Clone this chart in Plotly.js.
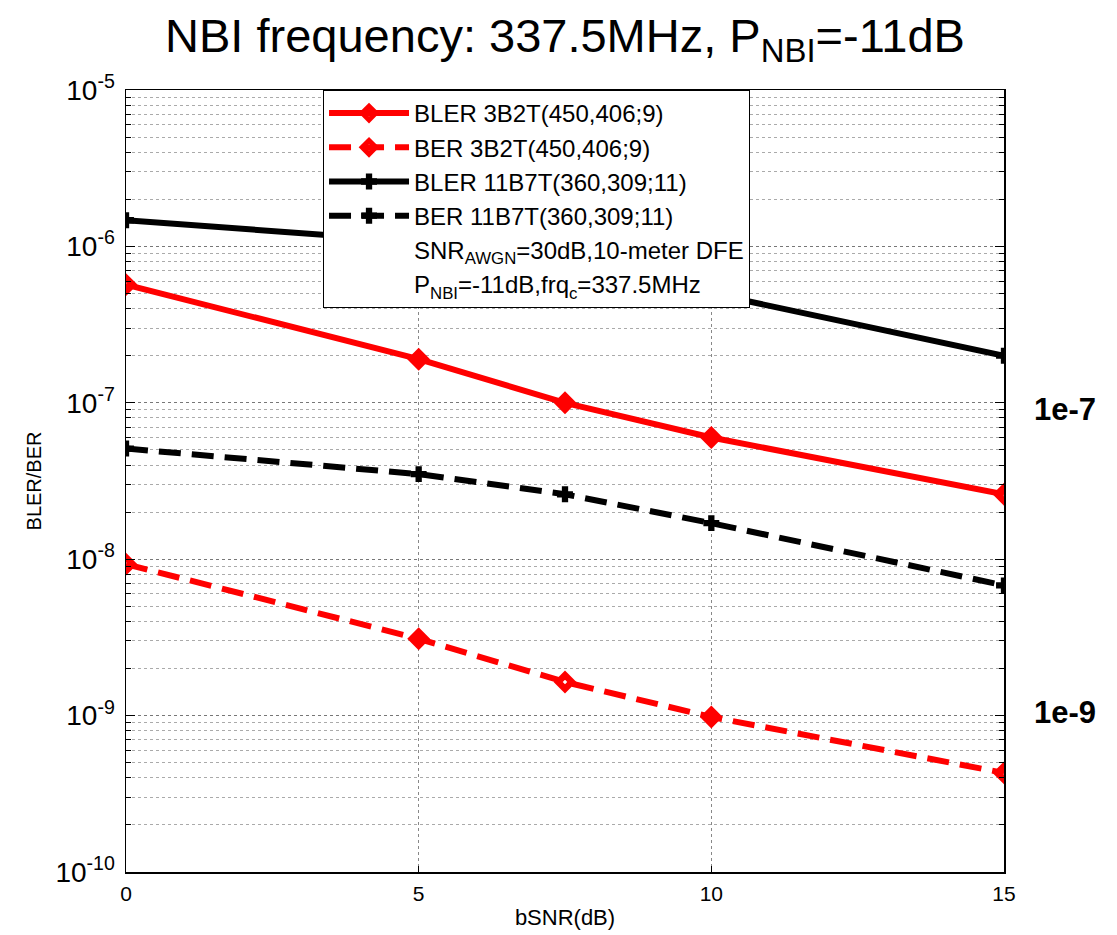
<!DOCTYPE html>
<html>
<head>
<meta charset="utf-8">
<script src="https://cdn.plot.ly/plotly-3.0.1.min.js"></script>
<style>
  html, body { margin: 0; padding: 0; background: #fff; }
  #chart { width: 1117px; height: 935px; }
</style>
</head>
<body>
<div id="chart"></div>
<script>
// bSNR sweep (dB)
const bsnr = [0, 5, 7.5, 10, 15];

// 3B2T(450,406;9) code
const blerCode3B2T = [5.7e-7, 1.9e-7, 1.0e-7, 6.0e-8, 2.6e-8];
const berCode3B2T  = [9.3e-9, 3.1e-9, 1.64e-9, 9.8e-10, 4.3e-10];

// 11B7T(360,309;11) code
const blerCode11B7T = [1.47e-6, 1.07e-6, 7.6e-7, 5.0e-7, 2.0e-7];
const berCode11B7T  = [5.1e-8, 3.5e-8, 2.6e-8, 1.7e-8, 6.8e-9];

const seriesNames = [
  'BLER 3B2T(450,406;9)',
  'BER 3B2T(450,406;9)',
  'BLER 11B7T(360,309;11)',
  'BER 11B7T(360,309;11)'
];
const noteLines = [
  'SNR<sub>AWGN</sub>=30dB,10-meter DFE',
  'P<sub>NBI</sub>=-11dB,frq<sub>c</sub>=337.5MHz'
];
const xTicks = [0, 5, 10, 15];
const yTickVals = [1e-10, 1e-9, 1e-8, 1e-7, 1e-6, 1e-5];
const yTickText = ['10<sup>-10</sup>', '10<sup>-9</sup>', '10<sup>-8</sup>',
                   '10<sup>-7</sup>', '10<sup>-6</sup>', '10<sup>-5</sup>'];

const RED = '#ff0000';
const BLACK = '#000000';
const DASH = '22px,11px';

function redTrace(y, name, dash, group) {
  return {
    x: bsnr, y: y, name: name, type: 'scatter', mode: 'lines+markers',
    legendgroup: group,
    line: { color: RED, width: 6, dash: dash },
    marker: { symbol: 'diamond-open', size: 10.5, color: RED, line: { color: RED, width: 6.5 } }
  };
}
function blackTrace(y, name, dash, group) {
  return {
    x: bsnr, y: y, name: name, type: 'scatter', mode: 'lines+markers',
    legendgroup: group,
    line: { color: BLACK, width: 6, dash: dash },
    marker: { symbol: 'cross', size: 12, color: BLACK, line: { color: BLACK, width: 1.5 } }
  };
}
function noteTrace(text, group) {
  return {
    x: [null], y: [null], name: text, type: 'scatter', mode: 'lines',
    legendgroup: group, hoverinfo: 'skip',
    line: { color: 'rgba(0,0,0,0)', width: 0 }
  };
}

const traces = [
  redTrace(blerCode3B2T, seriesNames[0], 'solid', 'g1'),
  redTrace(berCode3B2T, seriesNames[1], DASH, 'g2'),
  blackTrace(blerCode11B7T, seriesNames[2], 'solid', 'g3'),
  blackTrace(berCode11B7T, seriesNames[3], DASH, 'g4'),
  noteTrace(noteLines[0], 'g5'),
  noteTrace(noteLines[1], 'g6')
];

const FONT = 'Liberation Sans, Arial, sans-serif';

const layout = {
  width: 1117, height: 935,
  paper_bgcolor: '#ffffff', plot_bgcolor: '#ffffff',
  margin: { l: 126, r: 113, t: 90, b: 63 },
  font: { family: FONT, color: '#000' },
  title: {
    text: 'NBI frequency: 337.5MHz, P<sub>NBI</sub>=-11dB',
    font: { size: 47, family: FONT, color: '#000' },
    x: 0.5, xref: 'paper', y: 0.962, yref: 'container', yanchor: 'middle'
  },
  showlegend: true,
  legend: {
    x: 0.2244, y: 1, xanchor: 'left', yanchor: 'top',
    bgcolor: '#ffffff', bordercolor: '#000', borderwidth: 1,
    font: { size: 24, family: FONT, color: '#000' },
    traceorder: 'grouped', tracegroupgap: 0, itemwidth: 80
  },
  xaxis: {
    range: [0, 15], tickmode: 'array', tickvals: xTicks,
    ticks: 'inside', ticklen: 6, tickwidth: 1, tickcolor: '#000',
    showline: true, linecolor: '#000', linewidth: 1.5, mirror: 'allticks',
    showgrid: true, gridcolor: '#888', griddash: 'dot', gridwidth: 1,
    zeroline: false,
    tickfont: { size: 21, family: FONT },
    ticklabelstandoff: 2,
    title: { text: 'bSNR(dB)', font: { size: 22, family: FONT }, standoff: 6 }
  },
  yaxis: {
    type: 'log', range: [-10, -5], tickmode: 'array',
    tickvals: yTickVals, ticktext: yTickText,
    ticks: 'inside', ticklen: 9, tickwidth: 1, tickcolor: '#000',
    showline: true, linecolor: '#000', linewidth: 1.5, mirror: 'allticks',
    showgrid: true, gridcolor: '#777', griddash: 'dot', gridwidth: 1,
    zeroline: false,
    minor: {
      dtick: 'D1', ticks: 'inside', ticklen: 5, tickcolor: '#000',
      showgrid: true, gridcolor: '#aaa', griddash: 'dot', gridwidth: 1
    },
    tickfont: { size: 28, family: FONT },
    ticklabelstandoff: 4,
    automargin: false,
    title: { text: 'BLER/BER', font: { size: 20, family: FONT }, standoff: 8 }
  },
  annotations: [
    { text: '<b>1e-7</b>', xref: 'paper', yref: 'paper', x: 1.0695, y: 0.592,
      xanchor: 'center', yanchor: 'middle', showarrow: false,
      font: { size: 31, family: FONT, color: '#000' } },
    { text: '<b>1e-9</b>', xref: 'paper', yref: 'paper', x: 1.0695, y: 0.2046,
      xanchor: 'center', yanchor: 'middle', showarrow: false,
      font: { size: 31, family: FONT, color: '#000' } }
  ]
};

Plotly.newPlot('chart', traces, layout, { displayModeBar: false, staticPlot: true });
</script>
</body>
</html>
